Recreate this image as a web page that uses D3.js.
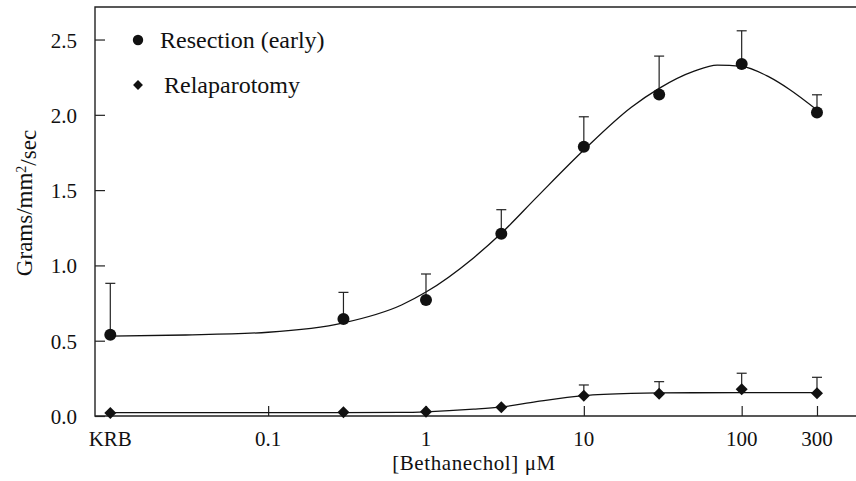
<!DOCTYPE html>
<html>
<head>
<meta charset="utf-8">
<script src="https://cdn.jsdelivr.net/npm/d3@7"></script>
<style>
  html, body { margin: 0; padding: 0; background: #fff; }
  svg { display: block; font-family: "Liberation Serif", "DejaVu Serif", serif; }
</style>
</head>
<body>
<div id="d3-container"></div>
<script>
/**
 * DATA (KRB is drawn at 0.01 uM)
 * */
const doses = [0.01, 0.3, 1, 3, 10, 30, 100, 300];
const resectionMean = [0.54, 0.644, 0.77, 1.21, 1.788, 2.135, 2.337, 2.016];
const resectionSem = [0.341, 0.177, 0.173, 0.16, 0.199, 0.255, 0.221, 0.117];
const relapMean = [0.02, 0.025, 0.029, 0.058, 0.135, 0.148, 0.177, 0.151];
const relapSem = [0, 0, 0, 0, 0.071, 0.08, 0.107, 0.106];

// fitted curves
const resectionFitX = [0.01, 0.03, 0.1, 0.3, 0.7, 1, 2, 3, 5, 10, 20, 30, 50, 70, 100, 150, 200, 300];
const resectionFitY = [0.531, 0.538, 0.556, 0.618, 0.737, 0.823, 1.05, 1.213, 1.45, 1.766, 2.05, 2.176, 2.29, 2.33, 2.322, 2.25, 2.17, 2.032];
const relapFitX = [0.01, 0.3, 0.7, 1, 2, 3, 5, 10, 20, 30, 100, 300];
const relapFitY = [0.022, 0.022, 0.024, 0.028, 0.045, 0.06, 0.095, 0.135, 0.15, 0.153, 0.155, 0.155];

const xTickValues = [0.1, 1, 10, 100, 300];
const xLabelValues = [0.01, 0.1, 1, 10, 100, 300];
const xLabels = ["KRB", "0.1", "1", "10", "100", "300"];
const yTickValues = [0, 0.5, 1, 1.5, 2, 2.5];

const legendNames = ["Resection (early)", "Relaparotomy"];

/**
 * CONSTANTS
 * */
var width = 856,
  height = 481,
  margin = { top: 7, bottom: 65, left: 95, right: 0 };

const serif = "'Liberation Serif', 'DejaVu Serif', serif";
const ink = "#111";

const svg = d3.select("#d3-container")
  .append("svg")
  .attr("width", width)
  .attr("height", height);

const x = d3.scaleLog()
  .domain([0.008, 530])
  .range([margin.left, width - margin.right]);

const y = d3.scaleLinear()
  .domain([0, 2.716])
  .range([height - margin.bottom, margin.top]);

// frame: left, top and bottom lines
svg.append("path")
  .attr("d", `M${width},${margin.top}H${margin.left}V${height - margin.bottom}H${width}`)
  .attr("fill", "none")
  .attr("stroke", "#222")
  .attr("stroke-width", 1.4);

// y ticks (inside) + labels
const yAxis = d3.axisLeft(y)
  .tickValues(yTickValues)
  .tickFormat(d3.format(".1f"))
  .tickSizeInner(-10)
  .tickSizeOuter(0)
  .tickPadding(18);

svg.append("g")
  .attr("transform", `translate(${margin.left},0)`)
  .call(yAxis)
  .attr("font-family", serif)
  .attr("font-size", 21)
  .call(g => g.select(".domain").remove())
  .call(g => g.selectAll("line").attr("stroke", "#222").attr("stroke-width", 1.2))
  .call(g => g.selectAll("text").attr("fill", ink).attr("dy", "0.36em"));

// x ticks (inside)
const xAxis = d3.axisBottom(x)
  .tickValues(xTickValues)
  .tickFormat("")
  .tickSizeInner(-10)
  .tickSizeOuter(0);

svg.append("g")
  .attr("transform", `translate(0,${height - margin.bottom})`)
  .call(xAxis)
  .call(g => g.select(".domain").remove())
  .call(g => g.selectAll("line").attr("stroke", "#222").attr("stroke-width", 1.2));

// x labels
svg.append("g")
  .selectAll("text")
  .data(xLabelValues)
  .join("text")
  .attr("x", d => x(d))
  .attr("y", 446)
  .attr("text-anchor", "middle")
  .attr("fill", ink)
  .style("font-size", "21px")
  .text((d, i) => xLabels[i]);

// axis titles
svg.append("text")
  .attr("x", 474)
  .attr("y", 470)
  .attr("text-anchor", "middle")
  .attr("fill", ink)
  .style("font-size", "21px")
  .style("letter-spacing", "0.6px")
  .text("[Bethanechol] \u03bcM");

const yTitle = svg.append("text")
  .attr("transform", "translate(32,203) rotate(-90)")
  .attr("text-anchor", "middle")
  .attr("fill", ink)
  .style("font-size", "23px");
yTitle.append("tspan").text("Grams/mm");
yTitle.append("tspan").attr("dy", "-0.45em").style("font-size", "14px").text("2");
yTitle.append("tspan").attr("dy", "0.45em").text("/sec");

/**
 * CURVES
 * */
const line = d3.line()
  .x(d => x(d[0]))
  .y(d => y(d[1]))
  .curve(d3.curveMonotoneX);

svg.append("path")
  .datum(d3.zip(resectionFitX, resectionFitY))
  .attr("d", line)
  .attr("fill", "none")
  .attr("stroke", ink)
  .attr("stroke-width", 1.3);

svg.append("path")
  .datum(d3.zip(relapFitX, relapFitY))
  .attr("d", line)
  .attr("fill", "none")
  .attr("stroke", ink)
  .attr("stroke-width", 1.3);

/**
 * ERROR BARS + MARKERS
 * */
function errorBars(means, sems) {
  const g = svg.append("g")
    .attr("stroke", "#222")
    .attr("stroke-width", 1.2);
  const bars = g.selectAll("g")
    .data(doses.map((d, i) => ({ dose: d, m: means[i], s: sems[i] })).filter(d => d.s > 0))
    .join("g");
  bars.append("line")
    .attr("x1", d => x(d.dose))
    .attr("x2", d => x(d.dose))
    .attr("y1", d => y(d.m))
    .attr("y2", d => y(d.m + d.s));
  bars.append("line")
    .attr("x1", d => x(d.dose) - 5)
    .attr("x2", d => x(d.dose) + 5)
    .attr("y1", d => y(d.m + d.s))
    .attr("y2", d => y(d.m + d.s));
}

errorBars(resectionMean, resectionSem);
errorBars(relapMean, relapSem);

const circleSym = d3.symbol().type(d3.symbolCircle);
const diamondSym = d3.symbol().type(d3.symbolSquare);

svg.append("g")
  .selectAll("path")
  .data(doses)
  .join("path")
  .attr("d", circleSym.size(Math.PI * 6 * 6)())
  .attr("transform", (d, i) => `translate(${x(d)},${y(resectionMean[i])})`)
  .attr("fill", ink);

svg.append("g")
  .selectAll("path")
  .data(doses)
  .join("path")
  .attr("d", diamondSym.size(8.5 * 8.5)())
  .attr("transform", (d, i) => `translate(${x(d)},${y(relapMean[i])}) rotate(45)`)
  .attr("fill", ink);

/**
 * LEGEND
 * */
const legend = svg.append("g");
legend.append("path")
  .attr("d", d3.symbol().type(d3.symbolCircle).size(Math.PI * 5.2 * 5.2)())
  .attr("transform", "translate(138,40)")
  .attr("fill", ink);
legend.append("path")
  .attr("d", d3.symbol().type(d3.symbolSquare).size(7 * 7)())
  .attr("transform", "translate(138,85) rotate(45)")
  .attr("fill", ink);
legend.selectAll("text")
  .data(legendNames)
  .join("text")
  .attr("x", (d, i) => i === 0 ? 160 : 164)
  .attr("y", (d, i) => i === 0 ? 47.5 : 92.5)
  .attr("fill", ink)
  .style("font-size", "24px")
  .text(d => d);
</script>
</body>
</html>
